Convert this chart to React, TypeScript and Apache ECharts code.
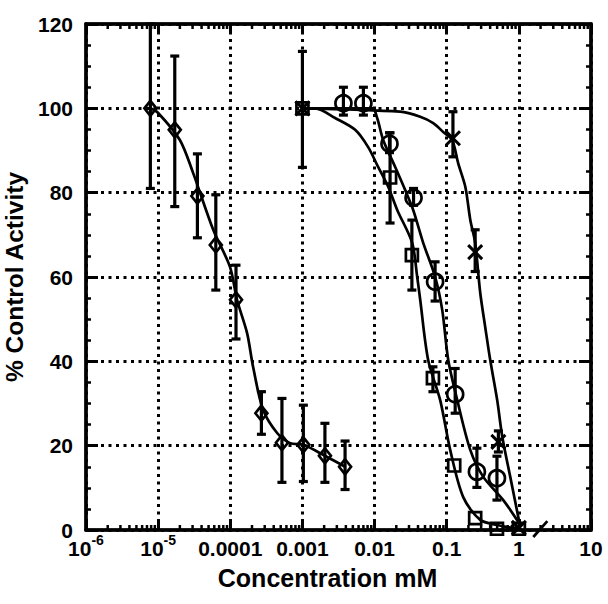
import React, { useEffect, useRef } from "react";
import * as echarts from "echarts";

// ---- tick labels ----
const xTickLabels = ["{b|10}{s|-6}", "{b|10}{s|-5}", "{b|0.0001}", "{b|0.001}", "{b|0.01}", "{b|0.1}", "{b|1}", "{b|10}"];
const xDecades = [1e-6, 1e-5, 1e-4, 1e-3, 1e-2, 1e-1, 1];
const xMinorMultipliers = [2, 3, 4, 5, 6, 7, 8, 9];

// ---- diamonds ----
const diamondX = [7.8e-6, 1.7e-5, 3.5e-5, 6.3e-5, 1.2e-4, 2.7e-4, 5.2e-4, 1.03e-3, 2.05e-3, 3.9e-3];
const diamondY = [100, 94.9, 79.2, 67.6, 54.6, 27.7, 20.7, 20.2, 17.6, 15.0];
const diamondLo = [81, 76.7, 69.3, 56.9, 45.3, 22.7, 11.3, 11.5, 11.3, 9.6];
const diamondHi = [120, 112.4, 89.2, 79.5, 62.8, 32.8, 31.2, 29.6, 25.3, 21.1];
const diamondCurveX = [7.8e-6, 1.0e-5, 2.0e-5, 3.05e-5, 5.8e-5, 9.9e-5, 1.24e-4, 1.71e-4, 2.07e-4, 2.85e-4, 4.46e-4, 6.75e-4, 1.03e-3, 2.05e-3, 3.9e-3];
const diamondCurveY = [100, 98.9, 92.5, 84.7, 71.2, 62.4, 54.6, 46.7, 38.7, 28.5, 23.0, 20.6, 20.2, 17.6, 15.0];

// ---- squares ----
const squareX = [0.001, 0.0164, 0.0329, 0.0644, 0.127, 0.248, 0.497, 1.0];
const squareY = [100, 83.6, 65.2, 36.0, 15.3, 2.8, 0.3, 0.3];
const squareLo = [86, 72.8, 56.9, 32.8, null, null, null, null];
const squareHi = [113.5, 94.2, 73.5, 38.7, null, null, null, null];
const squareCurveX = [0.001, 0.0015, 0.00284, 0.00538, 0.00815, 0.0112, 0.01545, 0.0206, 0.0332, 0.039, 0.0429, 0.0553, 0.0812, 0.1117, 0.1694, 0.2917, 0.501, 1.0];
const squareCurveY = [100, 100, 97.7, 94.9, 90.8, 86.1, 81.4, 75.9, 68.1, 60.0, 54.6, 40.3, 30.8, 19.0, 7.8, 2.4, 1.2, 0.2];

// ---- circles ----
const circleX = [0.0037, 0.0070, 0.0161, 0.0347, 0.069, 0.131, 0.262, 0.497];
const circleY = [101.2, 101.2, 91.6, 78.8, 58.9, 32.2, 13.8, 12.3];
const circleLo = [98.4, 98.4, 89.5, 77, 54.3, 27.7, 10.1, 7.1];
const circleHi = [105, 105, 94.2, 81, 63.6, 38.3, 19.4, 17.5];
const circleCurveX = [0.001, 0.00927, 0.01086, 0.01316, 0.0193, 0.0266, 0.0343, 0.0472, 0.0692, 0.0866, 0.105, 0.140, 0.212, 0.321, 0.608, 1.0];
const circleCurveY = [100, 100, 97.7, 92.5, 86.1, 80.6, 75.9, 68.1, 60.0, 52.2, 40.3, 30.8, 19.0, 12.6, 7.1, 1.7];

// ---- crosses ----
const crossX = [0.001, 0.122, 0.248, 0.52, 1.0];
const crossY = [100, 92.9, 65.9, 20.9, 0.5];
const crossLo = [null, 88.5, 61.3, 18.5, null];
const crossHi = [null, 99.2, 71.2, 23.5, null];
const crossCurveX = [0.001, 0.0226, 0.0429, 0.065, 0.0894, 0.119, 0.144, 0.181, 0.212, 0.248, 0.2917, 0.342, 0.401, 0.501, 0.589, 0.760, 1.0];
const crossCurveY = [100, 99.2, 98.0, 96.5, 94.4, 92.5, 87.0, 81.4, 73.6, 68.1, 56.2, 48.1, 40.3, 30.8, 22.1, 12.6, 2.4];

// ---- axis break slash ----
const slashX = [1.585, 2.48];
const slashY = [-1.66, 2.1];

const FONT = "'Liberation Sans', Arial, Helvetica, sans-serif";
const BLACK = "#000";

function pairs(xs: number[], ys: number[]) {
  return xs.map((x, i) => [x, ys[i]]);
}
function errData(xs: number[], lo: (number | null)[], hi: (number | null)[]) {
  const out: number[][] = [];
  xs.forEach((x, i) => {
    if (lo[i] != null && hi[i] != null) out.push([x, lo[i] as number, hi[i] as number]);
  });
  return out;
}

const errorBarRender = (params: any, api: any) => {
  const x = api.value(0);
  const lo = api.coord([x, api.value(1)]);
  const hi = api.coord([x, api.value(2)]);
  const cap = 4.5;
  const style = { stroke: BLACK, lineWidth: 3.2, fill: "none" };
  return {
    type: "group",
    children: [
      { type: "line", shape: { x1: lo[0], y1: lo[1], x2: hi[0], y2: hi[1] }, style },
      { type: "line", shape: { x1: lo[0] - cap, y1: lo[1], x2: lo[0] + cap, y2: lo[1] }, style },
      { type: "line", shape: { x1: hi[0] - cap, y1: hi[1], x2: hi[0] + cap, y2: hi[1] }, style },
    ],
  };
};

function curve(xs: number[], ys: number[]) {
  return {
    type: "line",
    data: pairs(xs, ys),
    showSymbol: false,
    symbol: "none",
    smooth: 0.3,
    lineStyle: { color: BLACK, width: 2.7 },
    z: 2,
    silent: true,
  };
}

function markers(xs: number[], ys: number[], symbol: string, size: any, bw = 2.7) {
  return {
    type: "scatter",
    data: pairs(xs, ys),
    symbol,
    symbolSize: size,
    itemStyle: { color: "none", borderColor: BLACK, borderWidth: bw, opacity: 1 },
    z: 4,
    silent: true,
  };
}

function errSeries(data: number[][]) {
  return {
    type: "custom",
    data,
    encode: { x: 0, y: [1, 2] },
    renderItem: errorBarRender,
    z: 3,
    silent: true,
  };
}

export default function App() {
  const ref = useRef<HTMLDivElement>(null);
  useEffect(() => {
    if (!ref.current) return;
    const chart = echarts.init(ref.current, undefined, { renderer: "svg" });
    const minorTicks: number[][] = [];
    xDecades.forEach((d) => xMinorMultipliers.forEach((m) => minorTicks.push([d * m, 0])));

    const labelRich = {
      b: { fontSize: 21, fontWeight: "bold", fontFamily: FONT, color: BLACK, verticalAlign: "bottom", lineHeight: 26 },
      s: { fontSize: 14, fontWeight: "bold", fontFamily: FONT, color: BLACK, verticalAlign: "top", lineHeight: 12 },
    };
    const dotted = { color: BLACK, width: 3, type: [3, 4.5] as any };

    const option: any = {
      animation: false,
      backgroundColor: "#fff",
      grid: {
        left: 86, top: 24, width: 505, height: 506,
        outerBoundsMode: "none", containLabel: false,
        show: true, borderColor: BLACK, borderWidth: 3, backgroundColor: "transparent",
      },
      xAxis: [
        {
          type: "log",
          logBase: 10,
          min: 1e-6,
          max: 10,
          splitNumber: 7,
          position: "bottom",
          axisLine: { show: true, onZero: false, lineStyle: { color: BLACK, width: 3.5 } },
          axisTick: { show: true, inside: true, length: 9, lineStyle: { color: BLACK, width: 3 } },
          axisLabel: {
            margin: 3,
            formatter: (v: number) => xTickLabels[Math.round(Math.log10(v)) + 6],
            rich: labelRich,
          },
          splitLine: { show: true, lineStyle: dotted },
          name: "Concentration mM",
          nameLocation: "middle",
          nameGap: 35,
          nameTextStyle: { fontSize: 25, fontWeight: "bold", fontFamily: FONT, color: BLACK, padding: [0, 22, 0, 0] },
        },
        {
          type: "log",
          logBase: 10,
          min: 1e-6,
          max: 10,
          splitNumber: 7,
          position: "top",
          axisLine: { show: true, onZero: false, lineStyle: { color: BLACK, width: 3.5 } },
          axisTick: { show: true, inside: true, length: 9, lineStyle: { color: BLACK, width: 3 } },
          axisLabel: { show: false },
          splitLine: { show: false },
        },
      ],
      yAxis: [
        {
          type: "value",
          min: 0,
          max: 120,
          interval: 20,
          position: "left",
          axisLine: { show: true, onZero: false, lineStyle: { color: BLACK, width: 3.5 } },
          axisTick: { show: true, inside: true, length: 12, lineStyle: { color: BLACK, width: 3 } },
          minorTick: { show: true, splitNumber: 4, length: 5, lineStyle: { color: BLACK, width: 2.5 } },
          axisLabel: { margin: 13, fontSize: 21, fontWeight: "bold", fontFamily: FONT, color: BLACK },
          splitLine: { show: true, lineStyle: dotted },
          name: "% Control Activity",
          nameLocation: "middle",
          nameGap: 47,
          nameRotate: 90,
          nameTextStyle: { fontSize: 24.5, fontWeight: "bold", fontFamily: FONT, color: BLACK },
        },
        {
          type: "value",
          min: 0,
          max: 120,
          interval: 20,
          position: "right",
          axisLine: { show: true, onZero: false, lineStyle: { color: BLACK, width: 3.5 } },
          axisTick: { show: true, inside: true, length: 12, lineStyle: { color: BLACK, width: 3 } },
          minorTick: { show: true, splitNumber: 4, length: 5, lineStyle: { color: BLACK, width: 2.5 } },
          axisLabel: { show: false },
          splitLine: { show: false },
        },
      ],
      series: [
        {
          type: "custom",
          data: minorTicks,
          encode: { x: 0, y: 1 },
          silent: true,
          z: 5,
          renderItem: (params: any, api: any) => {
            const cs = params.coordSys;
            const px = api.coord([api.value(0), 0])[0];
            const bottom = cs.y + cs.height;
            const top = cs.y;
            const style = { stroke: BLACK, lineWidth: 2.5 };
            return {
              type: "group",
              children: [
                { type: "line", shape: { x1: px, y1: bottom, x2: px, y2: bottom - 5 }, style },
                { type: "line", shape: { x1: px, y1: top, x2: px, y2: top + 5 }, style },
              ],
            };
          },
        },
        curve(diamondCurveX, diamondCurveY),
        curve(squareCurveX, squareCurveY),
        curve(circleCurveX, circleCurveY),
        curve(crossCurveX, crossCurveY),
        {
          type: "line",
          data: pairs(slashX, slashY),
          showSymbol: false,
          symbol: "none",
          clip: false,
          lineStyle: { color: BLACK, width: 2.7 },
          z: 4,
          silent: true,
        },
        errSeries(errData(diamondX, diamondLo, diamondHi)),
        errSeries(errData(squareX, squareLo, squareHi)),
        errSeries(errData(circleX, circleLo, circleHi)),
        errSeries(errData(crossX, crossLo, crossHi)),
        markers(diamondX, diamondY, "diamond", [12, 15]),
        markers(squareX, squareY, "rect", 12),
        markers(circleX, circleY, "circle", 16),
        markers(crossX, crossY, "path://M0,0L10,10M10,0L0,10", 14, 3),
      ],
    };
    chart.setOption(option);
    return () => chart.dispose();
  }, []);
  return (
    <div
      ref={ref}
      style={{ position: "fixed", left: 0, top: 0, width: 608, height: 604, background: "#fff" }}
    />
  );
}
